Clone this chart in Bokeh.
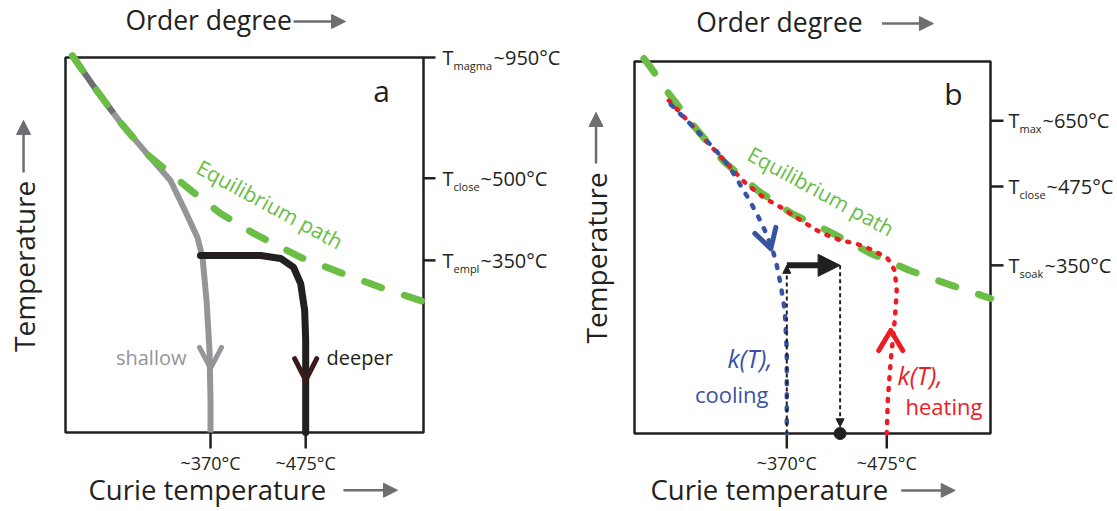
from bokeh.plotting import figure
from bokeh.layouts import row
from bokeh.models import Range1d, Arrow, NormalHead
from bokeh.core.properties import value
from bokeh.embed import file_html
from bokeh.resources import INLINE

FONT = "Open Sans"
INK = "#231f20"
GREEN = "#6abd45"
GRAY = "#939598"
DGRAY = "#6d6e71"
BLUE = "#3953a4"
RED = "#ed1c24"
BROWN = "#3b1a1a"

# ------------------------------------------------------------------ data
# x: Curie temperature (deg C, schematic), y: temperature (schematic, 0-100 inside the box)
curie_ticks = [370, 475]
curie_labels = ["~370°C", "~475°C"]

# panel a
a_temp_ticks = [100.0, 67.8, 45.9]
a_temp_names = ["magma", "close", "empl"]
a_temp_values = ["~950°C", "~500°C", "~350°C"]

a_eq_x = [217.5, 242.9, 270.5, 301.5, 344.6, 381.1, 417.5, 469.5, 515.9, 561.2, 605.4]
a_eq_y = [100.5, 91.7, 82.7, 73.9, 65.3, 58.4, 53.1, 46.7, 42.4, 38.4, 34.9]

a_shallow_x = [217.5, 242.9, 270.5, 301.5, 325.8, 340.2, 355.6, 361.2, 365.6, 368.9, 370.0, 370.0]
a_shallow_y = [100.5, 91.7, 82.7, 73.9, 67.2, 60.0, 52.0, 46.7, 35.2, 21.9, 8.5, 0.0]

a_common_x = [217.5, 242.9, 262.8]
a_common_y = [100.5, 91.7, 85.2]

a_deep_x = [358.9, 425.3, 447.4, 461.7, 469.5, 473.9, 475.0, 475.0]
a_deep_y = [47.2, 47.2, 46.4, 44.0, 39.7, 32.5, 24.5, 0.0]

a_shallow_head_x = [357.8, 370.0, 382.2]
a_shallow_head_y = [22.7, 17.1, 22.7]
a_deep_head_x = [462.8, 475.0, 487.2]
a_deep_head_y = [19.7, 13.9, 19.7]

# panel b
b_temp_ticks = [84.1, 66.4, 45.2]
b_temp_names = ["max", "close", "soak"]
b_temp_values = ["~650°C", "~475°C", "~350°C"]

b_eq_x = [219.9, 229.3, 245.1, 273.4, 303.9, 339.6, 375.3, 418.3, 458.2, 499.2, 543.3, 584.2]
b_eq_y = [100.8, 97.6, 91.7, 82.3, 73.1, 65.3, 59.1, 53.8, 48.4, 43.8, 39.8, 36.3]

b_heat_x = [246.1, 273.4, 303.9, 327.0, 345.9, 363.7, 384.7, 405.7, 426.7, 442.5, 461.4, 476.1,
            483.4, 485.5, 483.4, 479.2, 476.1, 475.0]
b_heat_y = [89.5, 82.0, 73.4, 67.2, 63.4, 60.8, 57.3, 54.0, 51.9, 51.1, 49.2, 47.0,
            43.8, 38.4, 30.4, 19.6, 8.9, 0.0]

b_cool_x = [248.2, 273.4, 295.5, 310.2, 319.6, 329.1, 338.5, 348.0, 355.3, 359.5, 363.7, 367.9, 370.0, 370.0]
b_cool_y = [88.4, 82.0, 76.1, 71.5, 67.5, 63.4, 59.1, 54.0, 49.2, 45.2, 39.8, 33.1, 22.3, 0.0]

b_cool_head_x = [336.4, 353.2, 358.5]
b_cool_head_y = [53.8, 49.7, 55.4]
b_heat_head_x = [466.6, 479.2, 491.8]
b_heat_head_y = [22.3, 27.7, 22.3]

b_soak_curie = 426.0          # Curie temperature reached after soaking
b_soak_temp = b_temp_ticks[2]

# ------------------------------------------------------------------ layout helpers
# each figure's frame is its whole canvas; px -> data scale factors per panel
A = dict(sx=1.10335, sy=0.26667, box=(210, 605), xr=(138.28, 762.78), yr=(-21.07, 115.2), w=566)
B = dict(sx=1.05056, sy=0.26882, box=(210, 584), xr=(138.56, 717.42), yr=(-20.97, 116.4), w=551)


def base_fig(P):
    p = figure(width=P["w"], height=511, min_border=0,
               x_range=Range1d(*P["xr"]), y_range=Range1d(*P["yr"]),
               x_axis_type=None, y_axis_type=None,
               toolbar_location=None, output_backend="svg")
    p.outline_line_color = None
    p.background_fill_color = "white"
    p.border_fill_color = "white"
    return p


def txt(p, x, y, s, size, color=INK, align="left", angle=0.0, style="normal", x_offset=0):
    p.text(x=[x], y=[y], text=[s], text_font=value(FONT), text_font_size=size,
           text_color=color, text_align=align, text_baseline="middle", angle=angle,
           text_font_style=style, x_offset=x_offset)


def gray_arrow(p, xs, ys, xe, ye):
    p.add_layout(Arrow(end=NormalHead(size=14, fill_color=DGRAY, line_color=DGRAY, line_width=1),
                       x_start=xs, y_start=ys, x_end=xe, y_end=ye,
                       line_color=DGRAY, line_width=2.5))


def frame_box_and_ticks(p, P, temp_ticks, bottom_len_px, right_len_px, names, vals, offsets, x_T):
    x0, x1 = P["box"]
    p.quad(left=[x0], right=[x1], bottom=[0], top=[100], fill_color=None,
           line_color=INK, line_width=2.5)
    # Curie temperature ticks and labels
    blen = bottom_len_px * P["sy"]
    p.segment(x0=curie_ticks, y0=[0] * 2, x1=curie_ticks, y1=[-blen] * 2,
              line_color=INK, line_width=2.5)
    p.text(x=curie_ticks, y=[-(bottom_len_px + 15) * P["sy"]] * 2, text=curie_labels,
           text_font=value(FONT), text_font_size="18px", text_color=INK,
           text_align="center", text_baseline="middle")
    # temperature ticks and labels (T with subscript)
    rlen = right_len_px * P["sx"]
    n = len(temp_ticks)
    p.segment(x0=[x1] * n, y0=temp_ticks, x1=[x1 + rlen] * n, y1=temp_ticks,
              line_color=INK, line_width=2.5)
    for t, nm, v, off in zip(temp_ticks, names, vals, offsets):
        txt(p, x_T, t, "T", "20px")
        txt(p, x_T, t - 8 * P["sy"], nm, "11px", x_offset=11)
        txt(p, x_T, t, v, "20px", x_offset=off)


# ------------------------------------------------------------------ panel a
pa = base_fig(A)
frame_box_and_ticks(pa, A, a_temp_ticks, 16, 12, a_temp_names, a_temp_values, [51, 38, 38], 626.0)

pa.line(a_shallow_x, a_shallow_y, line_color=GRAY, line_width=6, line_join="round")
pa.line(a_common_x, a_common_y, line_color=DGRAY, line_width=6, line_join="round")
pa.line(a_deep_x, a_deep_y, line_color=INK, line_width=7, line_join="round", line_cap="round")
pa.line(a_eq_x, a_eq_y, line_color=GREEN, line_width=7, line_dash="18 24", line_cap="round")
pa.line(a_shallow_head_x, a_shallow_head_y, line_color=GRAY, line_width=5, line_cap="round", line_join="round")
pa.line(a_deep_head_x, a_deep_head_y, line_color=BROWN, line_width=5, line_cap="round", line_join="round")

txt(pa, 558.7, 91.2, "a", "30px", align="center")
txt(pa, 343.5, 20.0, "shallow", "20px", color=GRAY, align="right")
txt(pa, 498.0, 20.0, "deeper", "20px")
txt(pa, 356.7, 71.2, "Equilibrium path", "21px", color=GREEN, angle=-0.497)

txt(pa, 276.2, 109.9, "Order degree", "26.5px")
gray_arrow(pa, 461.6, 109.6, 519.0, 109.6)
txt(pa, 235.4, -15.2, "Curie temperature", "27.5px")
gray_arrow(pa, 516.7, -15.4, 576.3, -15.4)
txt(pa, 163.7, 44.3, "Temperature", "28px", align="center", angle=1.5708)
gray_arrow(pa, 163.7, 69.3, 163.7, 83.2)

# ------------------------------------------------------------------ panel b
pb = base_fig(B)
frame_box_and_ticks(pb, B, b_temp_ticks, 15, 13, b_temp_names, b_temp_values, [34, 38, 36], 602.9)

pb.line(b_eq_x, b_eq_y, line_color=GREEN, line_width=7, line_dash="18 24", line_cap="round")
pb.line(b_heat_x, b_heat_y, line_color=RED, line_width=4.5, line_dash="2 9", line_cap="round")
pb.line(b_cool_x, b_cool_y, line_color=BLUE, line_width=4.5, line_dash="3 10", line_cap="round")
pb.line(b_cool_head_x, b_cool_head_y, line_color=BLUE, line_width=5, line_cap="round", line_join="round")
pb.line(b_heat_head_x, b_heat_head_y, line_color=RED, line_width=5, line_cap="round", line_join="round")

pb.add_layout(Arrow(end=NormalHead(size=8, fill_color=INK, line_color=INK, line_width=1),
                    x_start=curie_ticks[0], y_start=0, x_end=curie_ticks[0], y_end=b_soak_temp,
                    line_color=INK, line_width=2, line_dash="4 3"))
pb.add_layout(Arrow(end=NormalHead(size=8, fill_color=INK, line_color=INK, line_width=1),
                    x_start=b_soak_curie, y_start=b_soak_temp, x_end=b_soak_curie, y_end=1.8,
                    line_color=INK, line_width=2, line_dash="4 3"))
pb.add_layout(Arrow(end=NormalHead(size=22, fill_color=INK, line_color=INK, line_width=1),
                    x_start=curie_ticks[0], y_start=b_soak_temp, x_end=b_soak_curie, y_end=b_soak_temp,
                    line_color=INK, line_width=6))
pb.scatter(x=[b_soak_curie], y=[0], size=12, color=INK)

txt(pb, 545.1, 91.4, "b", "30px", align="center")
txt(pb, 330.8, 75.6, "Equilibrium path", "21px", color=GREEN, angle=-0.499)
txt(pb, 355.0, 20.2, "k(T),", "25px", color=BLUE, align="right", style="italic")
txt(pb, 350.8, 10.75, "cooling", "22px", color=BLUE, align="right")
txt(pb, 486.3, 15.6, "k(T),", "25px", color=RED, style="italic")
txt(pb, 494.7, 7.5, "heating", "22px", color=RED)

txt(pb, 275.0, 110.5, "Order degree", "26.5px")
gray_arrow(pb, 470.0, 110.2, 524.0, 110.2)
txt(pb, 226.8, -15.0, "Curie temperature", "27.5px")
gray_arrow(pb, 490.2, -15.3, 546.9, -15.3)
txt(pb, 169.6, 47.2, "Temperature", "28px", align="center", angle=1.5708)
gray_arrow(pb, 169.6, 72.6, 169.6, 86.3)

layout = row(pa, pb)
open("out.html", "w").write(file_html(layout, INLINE))
